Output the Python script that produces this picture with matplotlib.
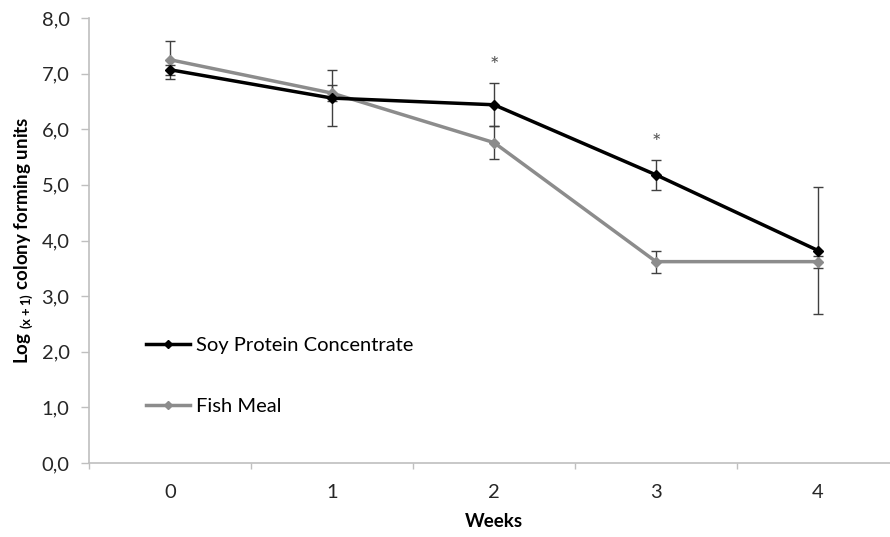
import numpy as np
import matplotlib.pyplot as plt

weeks = [0, 1, 2, 3, 4]
spc = [7.07, 6.56, 6.44, 5.18, 3.82]
spc_err = [0.09, 0.51, 0.39, 0.27, 1.14]
fm = [7.25, 6.65, 5.76, 3.62, 3.62]
fm_err = [0.34, 0.15, 0.30, 0.20, 0.11]
star_weeks = [2, 3]
star_y = [7.23, 5.86]

plt.rcParams['font.family'] = ['Lato', 'DejaVu Sans']
plt.rcParams['mathtext.fontset'] = 'custom'
plt.rcParams['mathtext.rm'] = 'Lato:bold'
plt.rcParams['mathtext.bf'] = 'Lato:bold'

fs = 14.5
fig = plt.figure(figsize=(8.9, 5.37), dpi=100)
ax = fig.add_axes([89 / 890, 74 / 537, 810 / 890, 445 / 537])

ecol = '#404040'
ax.errorbar(weeks, spc, yerr=spc_err, fmt='none', ecolor=ecol, elinewidth=1,
            capsize=3.5, capthick=1, zorder=2)
ax.errorbar(weeks, fm, yerr=fm_err, fmt='none', ecolor=ecol, elinewidth=1,
            capsize=3.5, capthick=1, zorder=2)
ax.plot(weeks, spc, color='black', lw=2.5, marker='D', ms=5.5,
        label='Soy Protein Concentrate', zorder=4)
ax.plot(weeks, fm, color='#8c8c8c', lw=2.5, marker='D', ms=5.5,
        label='Fish Meal', zorder=3)

# significance marks
for w, y in zip(star_weeks, star_y):
    ax.annotate('*', (w, y), xytext=(0, -4), textcoords='offset points',
                ha='center', va='center', fontsize=16, color='#555555')

ax.set_xlim(-0.5, 4.5)
ax.set_ylim(0, 8)
ax.set_yticks(np.arange(0, 8.1, 1))
ax.set_yticklabels([f'{v:.1f}'.replace('.', ',') for v in np.arange(0, 8.1, 1)])
ax.set_xticks(np.arange(-0.5, 4.6, 1))
ax.set_xticklabels([])
ax.set_xticks(weeks, minor=True)
ax.set_xticklabels([str(w) for w in weeks], minor=True)

for side in ['top', 'right']:
    ax.spines[side].set_visible(False)
for side in ['left', 'bottom']:
    ax.spines[side].set_color('#bfbfbf')
    ax.spines[side].set_linewidth(1.2)

ax.tick_params(axis='y', which='major', length=6, width=1, color='#bfbfbf',
               labelsize=fs, labelcolor='#262626', pad=8)
ax.tick_params(axis='x', which='major', length=4, width=1, color='#bfbfbf')
ax.tick_params(axis='x', which='minor', length=0, labelsize=fs,
               labelcolor='#262626', pad=15)

ax.set_xlabel('Weeks', fontsize=13.5, fontweight='bold', labelpad=9)
ax.set_ylabel(r'Log $_{\mathregular{(x+1)}}$ colony forming units', fontsize=13.5,
              fontweight='bold', labelpad=5)

ax.legend(loc='upper left', bbox_to_anchor=(0.07, 0.283), frameon=False,
          fontsize=fs, handlelength=2.2, handletextpad=0.3, labelspacing=2.15,
          borderpad=0, borderaxespad=0, markerscale=0.7)

fig.savefig('out.png', dpi=100)
